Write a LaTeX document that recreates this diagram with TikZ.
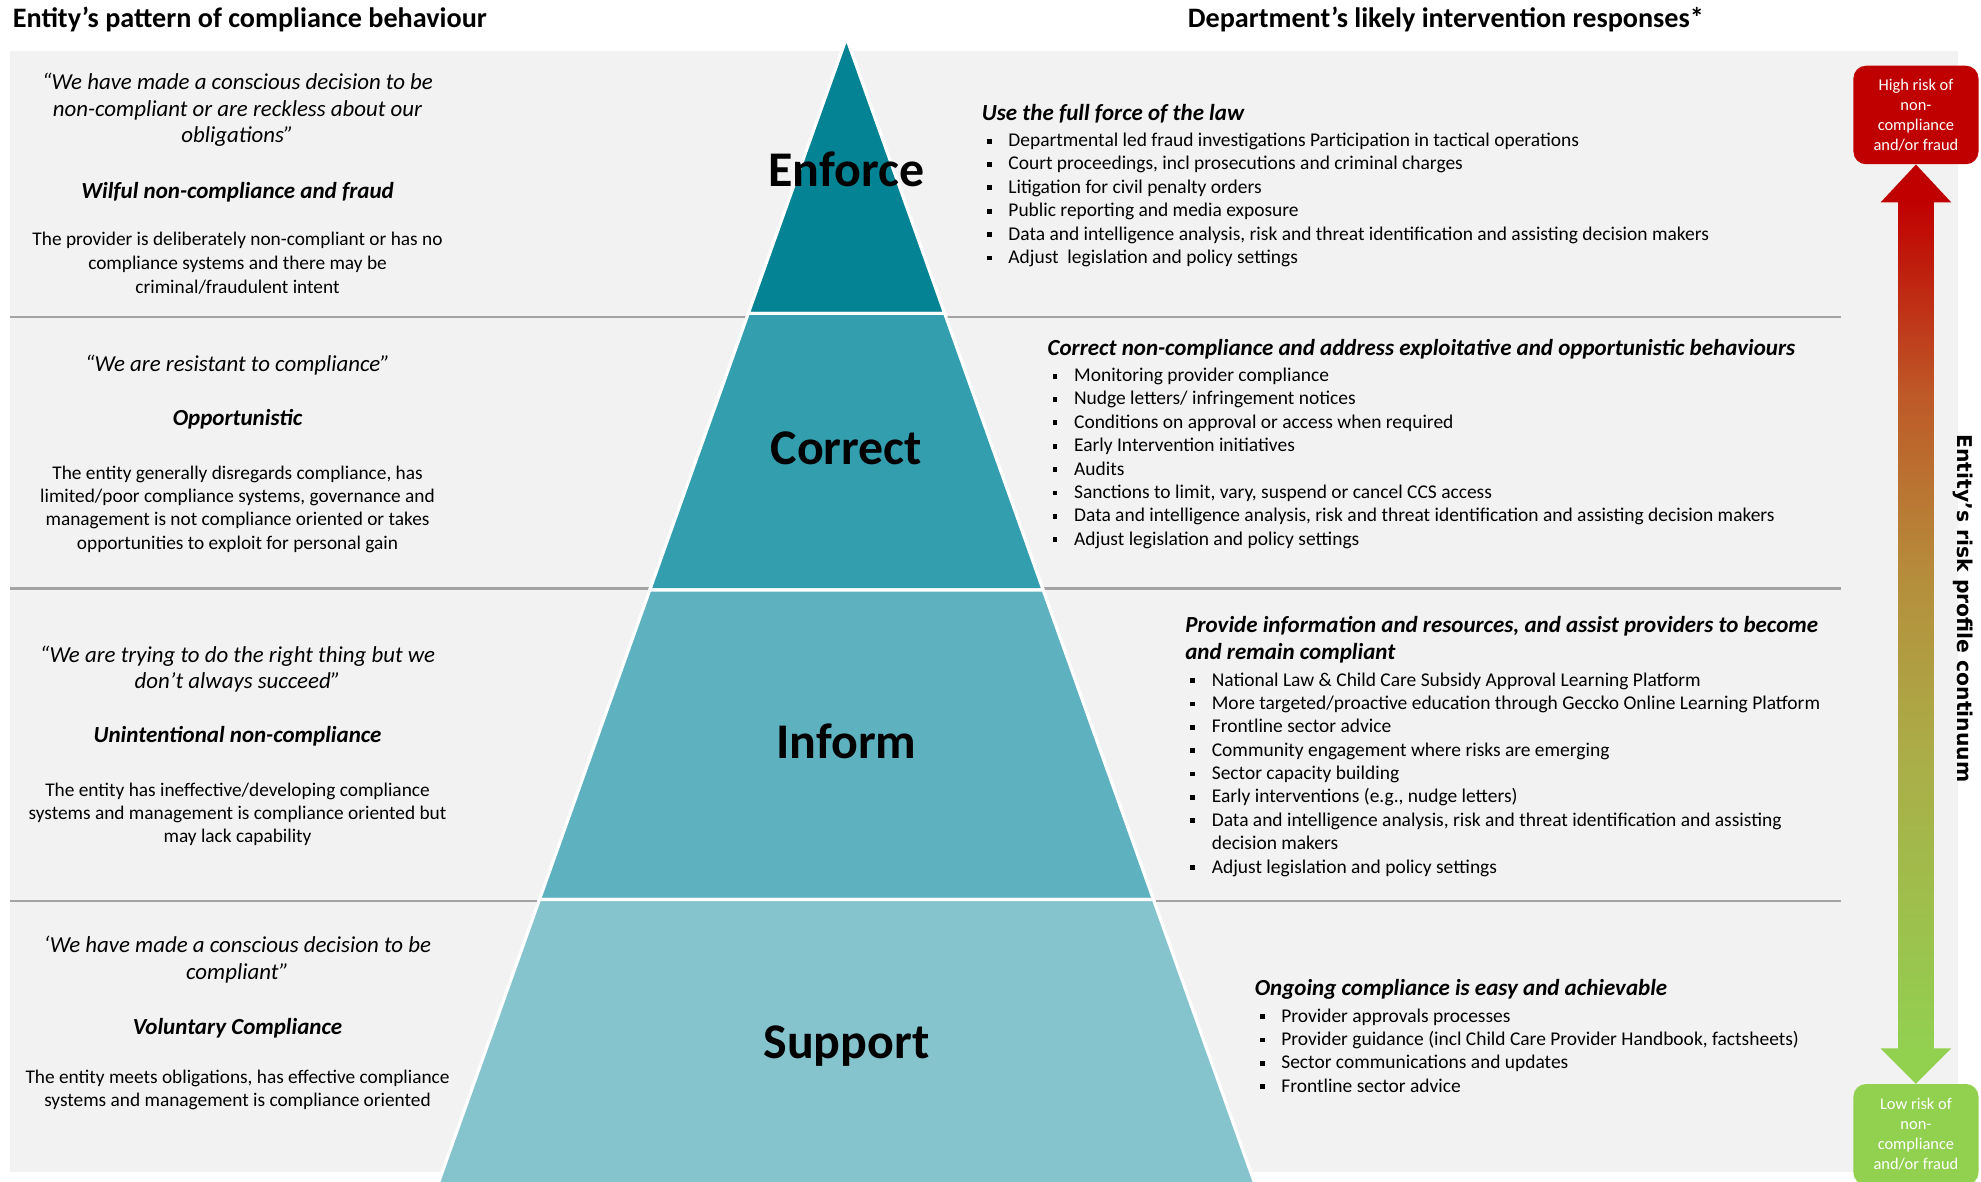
\documentclass[tikz,border=0pt]{standalone}
\usepackage{fontspec}
\setmainfont{Carlito}
\newfontfamily\sidefont{DejaVu Sans}

\definecolor{panel}{HTML}{F2F2F2}
\definecolor{rulegray}{HTML}{A3A3A3}
\definecolor{tierA}{HTML}{038394}
\definecolor{tierB}{HTML}{339EAE}
\definecolor{tierC}{HTML}{5EB1BE}
\definecolor{tierD}{HTML}{85C4CD}
\definecolor{riskhigh}{HTML}{C00000}
\definecolor{riskorange}{HTML}{BE5A28}
\definecolor{riskgold}{HTML}{B58F3C}
\definecolor{riskolive}{HTML}{ABAD48}
\definecolor{risklow}{HTML}{92D050}

% red-to-green scale for the continuum shaft (path fills the 25bp..75bp band)
\pgfdeclareverticalshading{riskscale}{100bp}{color(0bp)=(risklow); color(25bp)=(risklow);
  color(42.5bp)=(riskolive); color(52.5bp)=(riskgold); color(63.5bp)=(riskorange);
  color(75bp)=(riskhigh); color(100bp)=(riskhigh)}

% square bullet and list helpers
\newcommand{\sqbul}{\raisebox{2.4pt}{\rule{3.8pt}{3.8pt}}}
\newcommand{\itm}[1]{\hspace*{4pt}\makebox[17pt][l]{\sqbul}#1\par}
\newcommand{\hdg}[1]{{\fontsize{18.2}{21}\selectfont\bfseries\itshape #1\par}\vspace{2.5pt}}
\newcommand{\rlist}[1]{\parbox[t]{700pt}{\fontsize{15.4}{18.5}\selectfont #1}}
\newcommand{\cblock}[3]{\parbox[t]{380pt}{\centering\fontsize{#1}{#2}\selectfont #3}}

\begin{document}
\begin{tikzpicture}[x=1pt,y=-1pt,
  rule/.style={draw=rulegray,line width=2pt},
  tier/.style={draw=white,line width=2.5pt},
  tierlabel/.style={anchor=base,inner sep=0,font=\fontsize{39.5}{40}\selectfont\bfseries},
  txt/.style={anchor=base,inner sep=0},
  rtxt/.style={anchor=base west,inner sep=0},
  coltitle/.style={rtxt,font=\fontsize{22.3}{24}\selectfont\bfseries},
  behav/.style={txt,font=\fontsize{18.2}{21}\selectfont\bfseries\itshape},
  riskbox/.style={rounded corners=10pt,minimum width=99pt,inner sep=0,
    align=center,text=white,font=\fontsize{13}{15.8}\selectfont}]

\useasboundingbox (0,0) rectangle (1568,935);
\fill[white] (0,0) rectangle (1568,935);
\fill[panel] (8,40) rectangle (1550,928);

% column titles
\node[coltitle] (ltitle) at (10,22) {Entity’s pattern of compliance behaviour};
\node[coltitle] (rtitle) at (940,22) {Department’s likely intervention responses*};

% row separators
\draw[rule] (8,251) -- (1457,251);
\draw[rule] (8,466) -- (1457,466);
\draw[rule] (8,713) -- (1457,713);

% pyramid tiers
\filldraw[tier,fill=tierA] (670,30) -- (747.7,248) -- (592.3,248) -- cycle;
\filldraw[tier,fill=tierB] (592.3,248) -- (747.7,248) -- (825.7,467) -- (514.3,467) -- cycle;
\filldraw[tier,fill=tierC] (514.3,467) -- (825.7,467) -- (913,712) -- (427,712) -- cycle;
\filldraw[tier,fill=tierD] (427,712) -- (913,712) -- (996.1,945) -- (343.9,945) -- cycle;

\node[tierlabel] (enforce) at (670,148) {Enforce};
\node[tierlabel] (correct) at (670,368) {Correct};
\node[tierlabel] (inform) at (670,600) {Inform};
\node[tierlabel] (support) at (670,838) {Support};

% entity behaviour column
\node[txt] (q1) at (188,71) {\cblock{18.1}{21}{\itshape “We have made a conscious decision to be\\non-compliant or are reckless about our\\obligations”}};
\node[behav] (n1) at (188,157) {Wilful non-compliance and fraud};
\node[txt] (d1) at (188,194.5) {\cblock{15.3}{19}{The provider is deliberately non-compliant or has no\\compliance systems and there may be\\criminal/fraudulent intent}};

\node[txt] (q2) at (188,294) {\cblock{18.1}{21}{\itshape “We are resistant to compliance”}};
\node[behav] (n2) at (188,337) {Opportunistic};
\node[txt] (d2) at (188,379.5) {\cblock{15.3}{18.4}{The entity generally disregards compliance, has\\limited/poor compliance systems, governance and\\management is not compliance oriented or takes\\opportunities to exploit for personal gain}};

\node[txt] (q3) at (188,524) {\cblock{18.1}{21}{\itshape “We are trying to do the right thing but we\\don’t always succeed”}};
\node[behav] (n3) at (188,588) {Unintentional non-compliance};
\node[txt] (d3) at (188,630.5) {\cblock{15.3}{18}{The entity has ineffective/developing compliance\\systems and management is compliance oriented but\\may lack capability}};

\node[txt] (q4) at (188,754) {\cblock{18.1}{21}{\itshape ‘We have made a conscious decision to be\\compliant”}};
\node[behav] (n4) at (188,819) {Voluntary Compliance};
\node[txt] (d4) at (188,857.5) {\cblock{15.3}{18}{The entity meets obligations, has effective compliance\\systems and management is compliance oriented}};

% department response column
\node[rtxt] (r1) at (777,95) {\rlist{%
\hdg{Use the full force of the law}
\itm{Departmental led fraud investigations Participation in tactical operations}
\itm{Court proceedings, incl prosecutions and criminal charges}
\itm{Litigation for civil penalty orders}
\itm{Public reporting and media exposure}
\itm{Data and intelligence analysis, risk and threat identification and assisting decision makers}
\itm{Adjust\ \ legislation and policy settings}}};

\node[rtxt] (r2) at (829,281) {\rlist{%
\hdg{Correct non-compliance and address exploitative and opportunistic behaviours}
\itm{Monitoring provider compliance}
\itm{Nudge letters/ infringement notices}
\itm{Conditions on approval or access when required}
\itm{Early Intervention initiatives}
\itm{Audits}
\itm{Sanctions to limit, vary, suspend or cancel CCS access}
\itm{Data and intelligence analysis, risk and threat identification and assisting decision makers}
\itm{Adjust legislation and policy settings}}};

\node[rtxt] (r3) at (938,501) {\rlist{%
\hdg{Provide information and resources, and assist providers to become\\and remain compliant}
\itm{National Law \& Child Care Subsidy Approval Learning Platform}
\itm{More targeted/proactive education through Geccko Online Learning Platform}
\itm{Frontline sector advice}
\itm{Community engagement where risks are emerging}
\itm{Sector capacity building}
\itm{Early interventions (e.g., nudge letters)}
\itm{Data and intelligence analysis, risk and threat identification and assisting\\\hspace*{21pt}decision makers}
\itm{Adjust legislation and policy settings}}};

\node[rtxt] (r4) at (993,788) {\rlist{%
\hdg{Ongoing compliance is easy and achievable}
\itm{Provider approvals processes}
\itm{Provider guidance (incl Child Care Provider Handbook, factsheets)}
\itm{Sector communications and updates}
\itm{Frontline sector advice}}};

% risk continuum
\node[riskbox,fill=riskhigh,minimum height=78pt] (high) at (1516.5,91) {High risk of\\non-\\compliance\\and/or fraud};
\node[riskbox,fill=risklow,minimum height=80pt] (low) at (1516.5,898) {Low risk of\\non-\\compliance\\and/or fraud};

\shade[shading=riskscale]
  ([xshift=-14pt,yshift=-29.5pt]high.south) rectangle ([xshift=14pt,yshift=27.5pt]low.north);
\fill[riskhigh] (high.south) -- ([xshift=28pt,yshift=-30pt]high.south) -- ([xshift=-28pt,yshift=-30pt]high.south) -- cycle;
\fill[risklow] (low.north) -- ([xshift=28pt,yshift=28pt]low.north) -- ([xshift=-28pt,yshift=28pt]low.north) -- cycle;

\node[rotate=-90,inner sep=0,font=\sidefont\bfseries\fontsize{16.1}{18}\selectfont] (axis) at (1554,481.5) {Entity’s risk profile continuum};
\end{tikzpicture}
\end{document}
